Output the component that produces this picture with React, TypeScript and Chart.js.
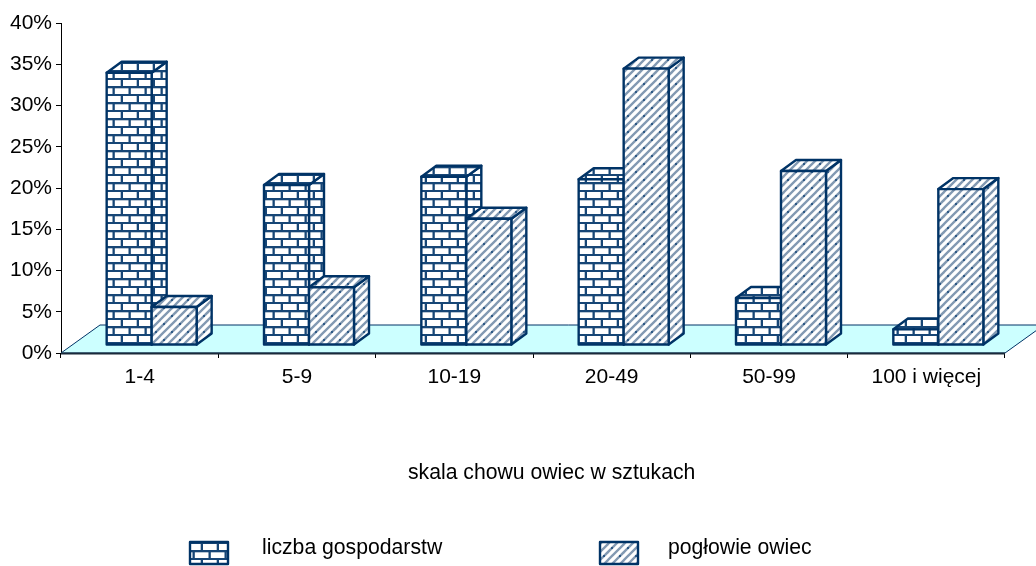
import { useEffect, useRef } from "react";
import { Chart, registerables } from "chart.js";

Chart.register(...registerables);

const categories = ["1-4", "5-9", "10-19", "20-49", "50-99", "100 i więcej"];
const liczbaGospodarstw = [33.0, 19.4, 20.4, 20.1, 5.7, 1.9];
const poglowieOwiec = [4.6, 7.0, 15.3, 33.5, 21.1, 18.9];
const yTicks = [0, 5, 10, 15, 20, 25, 30, 35, 40];
const axisTitle = "skala chowu owiec w sztukach";
const seriesNames = ["liczba gospodarstw", "pogłowie owiec"];

const NAVY = "#003366";
const FLOOR = "#CCFFFF";
const FONT = '"Liberation Sans", Arial, sans-serif';

function tile(size: number, paint: (g: CanvasRenderingContext2D) => void) {
  const c = document.createElement("canvas");
  c.width = size;
  c.height = size;
  const g = c.getContext("2d")!;
  g.fillStyle = "#fff";
  g.fillRect(0, 0, size, size);
  paint(g);
  return c;
}

function patternOf(ctx: CanvasRenderingContext2D, c: HTMLCanvasElement) {
  return ctx.createPattern(c, "repeat")!;
}

const brickTile = () =>
  tile(16, (g) => {
    g.fillStyle = "#174676";
    g.fillRect(0, 6, 16, 2.3);
    g.fillRect(0, 14, 16, 2.3);
    g.fillRect(8.7, 0, 2.3, 6);
    g.fillRect(0.5, 8, 2.3, 6);
  });

const hatchTile = () =>
  tile(16, (g) => {
    g.strokeStyle = "#8299b2";
    g.lineWidth = 2.3;
    for (const k of [-16, -8, 0, 8, 16, 24]) {
      g.beginPath();
      g.moveTo(k - 1, 17);
      g.lineTo(k + 17, -1);
      g.stroke();
    }
    g.fillStyle = "#2f5a86";
    g.fillRect(3, 3, 2, 2);
    g.fillRect(11, 11, 2, 2);
  });

const DEPTH_X = 15;
const DEPTH_Y = 11;
const SHIFT_X = 12;
const SHIFT_Y = 8;
const FLOOR_X = 39;
const FLOOR_Y = 28;

function face(ctx: CanvasRenderingContext2D, pts: number[][], fill: CanvasPattern | string) {
  ctx.beginPath();
  pts.forEach(([x, y], i) => (i ? ctx.lineTo(x, y) : ctx.moveTo(x, y)));
  ctx.closePath();
  ctx.fillStyle = fill;
  ctx.fill();
  ctx.stroke();
}

const scene = {
  id: "scene",
  beforeDatasetsDraw(chart: any) {
    const { ctx, chartArea, scales } = chart;
    const y0 = scales.y.getPixelForValue(0);
    const { left, right } = chartArea;
    ctx.save();
    // floor
    ctx.strokeStyle = NAVY;
    ctx.lineWidth = 1;
    ctx.beginPath();
    ctx.moveTo(left, y0);
    ctx.lineTo(left + FLOOR_X, y0 - FLOOR_Y);
    ctx.lineTo(right + FLOOR_X, y0 - FLOOR_Y);
    ctx.lineTo(right, y0);
    ctx.closePath();
    ctx.fillStyle = FLOOR;
    ctx.fill();
    ctx.stroke();
    ctx.strokeStyle = "#1a2a3a";
    ctx.lineWidth = 2;
    ctx.beginPath();
    ctx.moveTo(left, y0 + 0.5);
    ctx.lineTo(right, y0 + 0.5);
    ctx.stroke();

    // bars, drawn left to right so the right one covers its neighbour's side
    ctx.strokeStyle = NAVY;
    ctx.lineWidth = 2.4;
    ctx.lineJoin = "round";
    const patterns = [patternOf(ctx, brickTile()), patternOf(ctx, hatchTile())];
    chart.data.datasets.forEach((_: any, d: number) => {
      chart.getDatasetMeta(d).data.forEach((bar: any) => {
        const x0 = bar.x - bar.width / 2 + SHIFT_X;
        const x1 = bar.x + bar.width / 2 + SHIFT_X;
        const top = bar.y - SHIFT_Y;
        const bot = bar.base - SHIFT_Y;
        face(ctx, [[x1, top], [x1 + DEPTH_X, top - DEPTH_Y], [x1 + DEPTH_X, bot - DEPTH_Y], [x1, bot]], patterns[d]);
        face(ctx, [[x0, top], [x0 + DEPTH_X, top - DEPTH_Y], [x1 + DEPTH_X, top - DEPTH_Y], [x1, top]], patterns[d]);
        face(ctx, [[x0, top], [x1, top], [x1, bot], [x0, bot]], patterns[d]);
      });
    });

    // axis title
    ctx.fillStyle = "#000";
    ctx.font = `21.2px ${FONT}`;
    ctx.textBaseline = "alphabetic";
    ctx.textAlign = "left";
    ctx.fillText(axisTitle, 408, 479);

    // legend
    const boxes = [[190, 262], [600, 668]];
    boxes.forEach(([bx, tx], i) => {
      ctx.strokeStyle = NAVY;
      ctx.lineWidth = 2.4;
      ctx.fillStyle = patterns[i];
      ctx.fillRect(bx, 542, 38, 22);
      ctx.strokeRect(bx, 542, 38, 22);
      ctx.fillStyle = "#000";
      ctx.fillText(seriesNames[i], tx, 554);
    });
    ctx.restore();
    return false;
  },
};

export default function App() {
  const ref = useRef<HTMLCanvasElement>(null);
  useEffect(() => {
    const chart = new Chart(ref.current!, {
      type: "bar",
      data: {
        labels: categories,
        datasets: [
          { label: seriesNames[0], data: liczbaGospodarstw, backgroundColor: NAVY },
          { label: seriesNames[1], data: poglowieOwiec, backgroundColor: NAVY },
        ],
      },
      options: {
        animation: false,
        responsive: false,
        layout: { padding: { top: 23, right: 31, left: 0, bottom: 0 } },
        categoryPercentage: 0.572,
        barPercentage: 1,
        plugins: { legend: { display: false }, tooltip: { enabled: false } },
        scales: {
          x: {
            offset: true,
            afterFit: (s: any) => { s.height = 566 - 353; },
            grid: { drawOnChartArea: false, drawTicks: true, tickLength: 5, color: "#000", offset: true },
            border: { display: false },
            ticks: { color: "#000", font: { family: FONT, size: 21 }, padding: 7, maxRotation: 0, autoSkip: false },
          },
          y: {
            min: 0,
            max: 40,
            afterFit: (s: any) => { s.width = 61; },
            afterBuildTicks: (s: any) => { s.ticks = yTicks.map((value) => ({ value })); },
            grid: { drawOnChartArea: false, drawTicks: true, tickLength: 5, color: "#000" },
            border: { display: true, color: "#000", width: 1 },
            ticks: { color: "#000", font: { family: FONT, size: 21 }, padding: 4, callback: (v: any) => `${v}%` },
          },
        },
      } as any,
      plugins: [scene],
    });
    return () => chart.destroy();
  }, []);
  return (
    <div style={{ position: "fixed", left: 0, top: 0, width: 1036, height: 566 }}>
      <canvas ref={ref} width={1036} height={566} style={{ display: "block" }} />
    </div>
  );
}
